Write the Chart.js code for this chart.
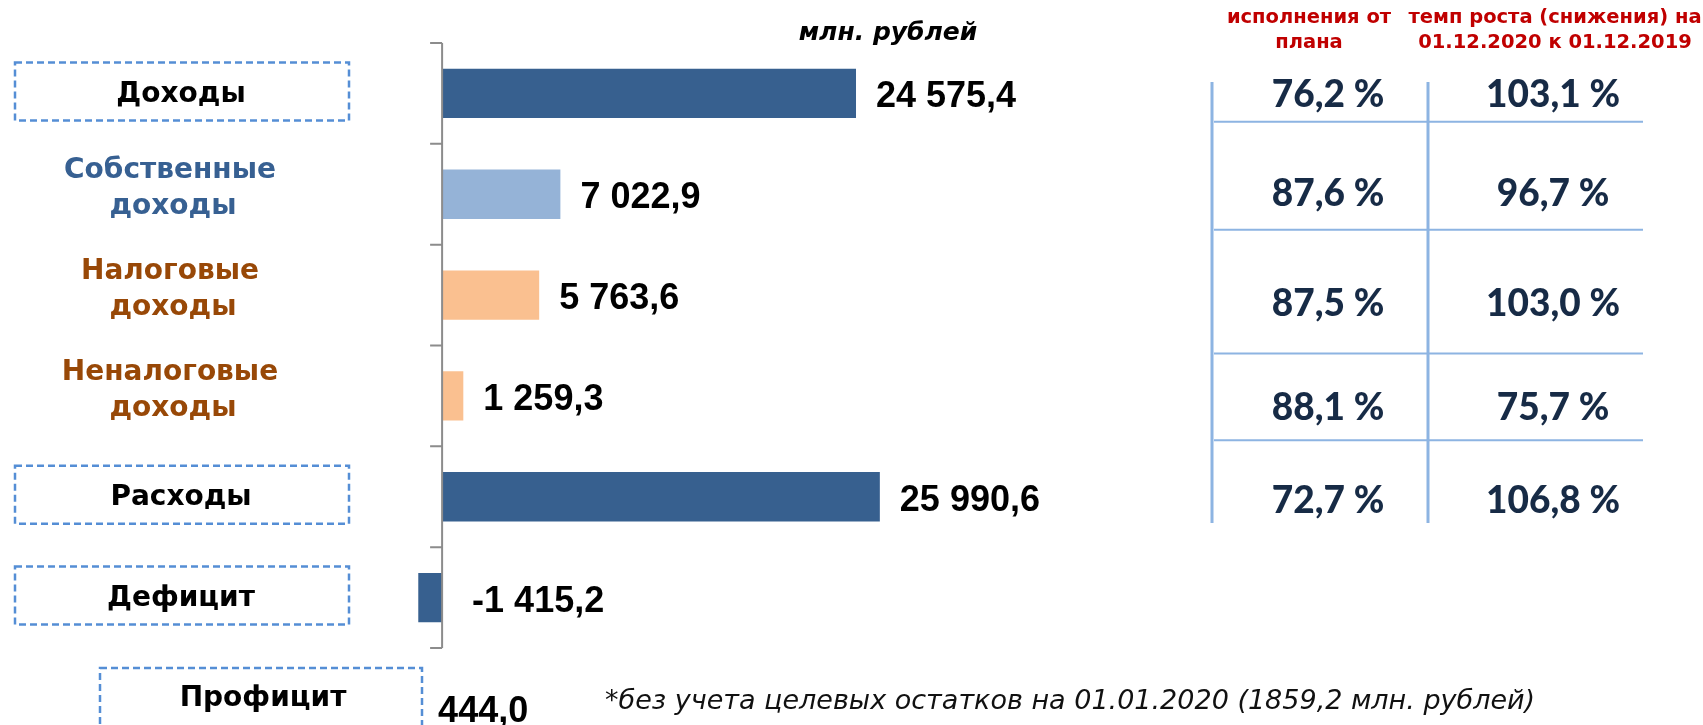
<!DOCTYPE html>
<html>
<head>
<meta charset="utf-8">
<script src="https://cdn.jsdelivr.net/npm/chart.js@4"></script>
<style>
    html, body { margin: 0; padding: 0; background: #fff; }
    #wrap { width: 1703px; height: 725px; position: relative; overflow: hidden; }
</style>
</head>
<body>
<div id="wrap"><canvas id="chart1" width="1703" height="725"></canvas></div>
<script>
// categories of the bar chart (label lines for the left side)
const categories = [
    ['Доходы'],
    ['Собственные', 'доходы'],
    ['Налоговые', 'доходы'],
    ['Неналоговые', 'доходы'],
    ['Расходы'],
    ['Дефицит']
];
const amounts = [24575.4, 7022.9, 5763.6, 1259.3, 25990.6, -1415.2];   // млн. рублей
const surplus = 444.0;

// table on the right
const planPct = [76.2, 87.6, 87.5, 88.1, 72.7];
const growthPct = [103.1, 96.7, 103.0, 75.7, 106.8];
const tableHeaders = [
    ['исполнения от', 'плана'],
    ['темп роста (снижения) на', '01.12.2020 к 01.12.2019']
];

const unitLabel = 'млн. рублей';
const surplusLabel = 'Профицит';
const footnote = '*без учета целевых остатков на 01.01.2020 (1859,2 млн. рублей)';

// styling
const barColors = ['#37608F', '#95B3D7', '#FAC090', '#FAC090', '#37608F', '#37608F'];
const labelColors = ['#000000', '#376092', '#984807', '#984807', '#000000', '#000000'];
const boxed = [true, false, false, false, true, true];

function formatNumber(num) {
    const parts = Math.abs(num).toFixed(1).split('.');
    const intPart = parts[0].replace(/\B(?=(\d{3})+(?!\d))/g, ' ');
    return (num < 0 ? '-' : '') + intPart + ',' + parts[1];
}

function formatPct(num) {
    return num.toFixed(1).replace('.', ',') + ' %';
}

function dashedBox(ctx, x, y, w, h) {
    ctx.save();
    ctx.strokeStyle = '#558ED5';
    ctx.lineWidth = 2.5;
    ctx.setLineDash([7, 4]);
    ctx.strokeRect(x, y, w, h);
    ctx.restore();
}

const decorPlugin = {
    id: 'decor',
    afterDraw(chart) {
        const ctx = chart.ctx;
        const x = chart.scales.x;
        const y = chart.scales.y;
        const area = chart.chartArea;
        const x0 = x.getPixelForValue(0);
        const band = y.getPixelForValue(1) - y.getPixelForValue(0);

        ctx.save();

        // axis line with tick marks between categories
        ctx.strokeStyle = '#8C8C8C';
        ctx.lineWidth = 2;
        ctx.beginPath();
        ctx.moveTo(x0, area.top);
        ctx.lineTo(x0, area.bottom);
        for (let i = 0; i <= categories.length; i++) {
            const ty = y.getPixelForValue(i - 0.5);
            ctx.moveTo(x0 - 12, ty);
            ctx.lineTo(x0, ty);
        }
        ctx.stroke();

        // left labels
        ctx.textAlign = 'center';
        ctx.font = 'bold 28px "DejaVu Sans"';
        categories.forEach((lines, i) => {
            const cy = y.getPixelForValue(i);
            ctx.fillStyle = labelColors[i];
            if (boxed[i]) {
                dashedBox(ctx, 15, cy - 31, 334, 58);
                ctx.textBaseline = 'middle';
                ctx.fillText(lines[0], 181, cy + 1);
            } else {
                ctx.textBaseline = 'alphabetic';
                ctx.fillText(lines[0], 170, cy - 16);
                ctx.fillText(lines[1], 173, cy + 20);
            }
        });

        // value labels next to bars
        ctx.fillStyle = '#000';
        ctx.textAlign = 'left';
        ctx.textBaseline = 'middle';
        ctx.font = 'bold 36px "Liberation Sans"';
        amounts.forEach((v, i) => {
            const px = x.getPixelForValue(Math.max(v, 0));
            ctx.fillText(formatNumber(v), px + (v < 0 ? 30 : 20), y.getPixelForValue(i) + 4);
        });

        // unit label
        ctx.font = 'italic bold 25px "DejaVu Sans"';
        ctx.textAlign = 'center';
        ctx.textBaseline = 'alphabetic';
        ctx.fillText(unitLabel, 888, 40);

        // surplus row below the chart
        const sy = area.bottom + band * 0.5;
        dashedBox(ctx, 100, 668, 322, 80);
        ctx.font = 'bold 28px "DejaVu Sans"';
        ctx.textBaseline = 'middle';
        ctx.fillText(surplusLabel, 263, sy);
        ctx.textAlign = 'left';
        ctx.font = 'bold 36px "Liberation Sans"';
        ctx.fillText(formatNumber(surplus), x0 - 4, sy + 14);

        ctx.font = 'italic 27px "DejaVu Sans"';
        ctx.fillStyle = '#111';
        ctx.textBaseline = 'alphabetic';
        ctx.fillText(footnote, 605, 709);

        // table on the right
        const colLines = [1212, 1428];
        const colCenters = [1328, 1553];
        const ruleShift = [-22, -15, 8, -6];
        const rowShift = [2, 0, 9, 12, 4];
        ctx.strokeStyle = '#8DB4E2';
        ctx.lineWidth = 3;
        ctx.beginPath();
        colLines.forEach(cx => {
            ctx.moveTo(cx, 82);
            ctx.lineTo(cx, 523);
        });
        ctx.stroke();
        ctx.lineWidth = 2;
        ctx.beginPath();
        ruleShift.forEach((s, i) => {
            const ry = y.getPixelForValue(i + 0.5) + s;
            ctx.moveTo(1214, ry);
            ctx.lineTo(1643, ry);
        });
        ctx.stroke();

        ctx.textAlign = 'center';
        ctx.textBaseline = 'middle';
        ctx.fillStyle = '#172B46';
        ctx.font = '900 37px Lato';
        planPct.forEach((v, i) => {
            const cy = y.getPixelForValue(i) + rowShift[i];
            ctx.fillText(formatPct(v), colCenters[0], cy);
            ctx.fillText(formatPct(growthPct[i]), colCenters[1], cy);
        });

        // table headers
        ctx.fillStyle = '#C00000';
        ctx.font = 'bold 19.5px "DejaVu Sans"';
        ctx.textBaseline = 'alphabetic';
        const headCenters = [1309, 1555];
        tableHeaders.forEach((lines, c) => {
            ctx.fillText(lines[0], headCenters[c], 23);
            ctx.fillText(lines[1], headCenters[c], 48);
        });

        ctx.restore();
    }
};

const ctx1 = document.getElementById('chart1').getContext('2d');
new Chart(ctx1, {
    type: 'bar',
    data: {
        labels: categories.map(l => l.join(' ')),
        datasets: [{
            data: amounts,
            backgroundColor: barColors,
            borderWidth: 0,
            barPercentage: 0.49,
            categoryPercentage: 1
        }]
    },
    options: {
        indexAxis: 'y',
        responsive: false,
        animation: false,
        devicePixelRatio: 1,
        layout: { padding: { left: 400, right: 503, top: 43, bottom: 77 } },
        scales: {
            x: { display: false, min: -2500, max: 45000 },
            y: { display: false }
        },
        plugins: {
            legend: { display: false },
            tooltip: { enabled: false }
        }
    },
    plugins: [decorPlugin]
});
</script>
</body>
</html>
